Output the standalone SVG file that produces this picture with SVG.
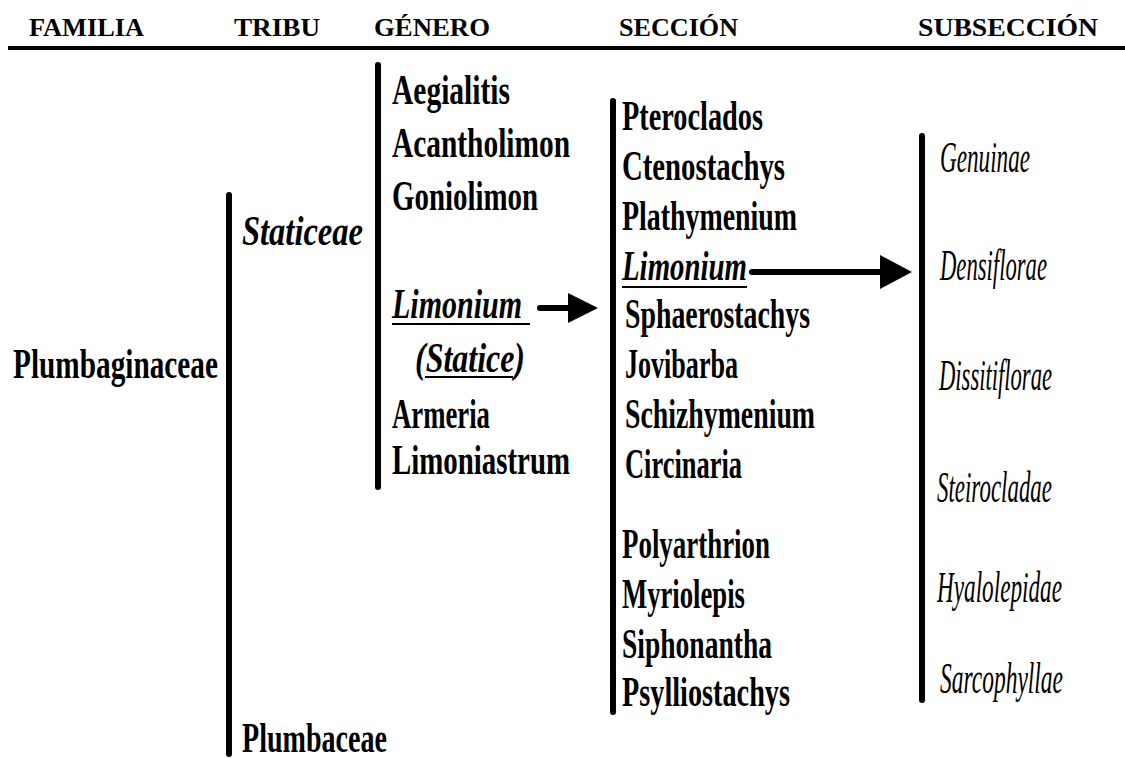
<svg xmlns="http://www.w3.org/2000/svg" width="1125" height="758" viewBox="0 0 1125 758">
<style>
  .hdr { font-family: "Liberation Serif", serif; font-weight: bold; font-size: 26px; fill: #000; }
  .b { font-family: "Liberation Serif", serif; font-weight: bold; font-size: 42px; fill: #000; }
  .bi { font-family: "Liberation Serif", serif; font-weight: bold; font-style: italic; font-size: 42px; fill: #000; }
  .i { font-family: "Liberation Serif", serif; font-style: italic; font-size: 44px; fill: #000; }
  .bar { stroke: #000; stroke-width: 6; stroke-linecap: round; fill: none; }
  .ul { stroke: #000; stroke-width: 2; }
  .shaft { stroke: #000; stroke-width: 6; stroke-linecap: round; }
</style>
<rect width="1125" height="758" fill="#fff"/>
<g id="header">
  <text class="hdr" x="29" y="36" textLength="115" lengthAdjust="spacingAndGlyphs">FAMILIA</text>
  <text class="hdr" x="234" y="36" textLength="86" lengthAdjust="spacingAndGlyphs">TRIBU</text>
  <text class="hdr" x="374" y="36" textLength="116" lengthAdjust="spacingAndGlyphs">GÉNERO</text>
  <text class="hdr" x="619" y="36" textLength="119" lengthAdjust="spacingAndGlyphs">SECCIÓN</text>
  <text class="hdr" x="918" y="36" textLength="180" lengthAdjust="spacingAndGlyphs">SUBSECCIÓN</text>
  <line x1="8" y1="48" x2="1125" y2="48" stroke="#000" stroke-width="4"/>
</g>
<g id="familia">
  <text class="b" x="13" y="378" textLength="205" lengthAdjust="spacingAndGlyphs">Plumbaginaceae</text>
</g>
<g id="tribu">
  <line class="bar" x1="229" y1="195" x2="229" y2="754"/>
  <text class="bi" x="242" y="245" textLength="121" lengthAdjust="spacingAndGlyphs">Staticeae</text>
  <text class="b" x="242" y="752" textLength="145" lengthAdjust="spacingAndGlyphs">Plumbaceae</text>
</g>
<g id="genero">
  <line class="bar" x1="378" y1="65" x2="378" y2="487"/>
  <text class="b" x="392" y="104" textLength="118" lengthAdjust="spacingAndGlyphs">Aegialitis</text>
  <text class="b" x="392" y="157" textLength="178" lengthAdjust="spacingAndGlyphs">Acantholimon</text>
  <text class="b" x="392" y="210" textLength="146" lengthAdjust="spacingAndGlyphs">Goniolimon</text>
  <text class="bi" x="392" y="318" textLength="130" lengthAdjust="spacingAndGlyphs">Limonium</text>
  <line class="ul" x1="392" y1="324" x2="530" y2="324"/>
  <text class="bi" x="415" y="372" textLength="110" lengthAdjust="spacingAndGlyphs">(Statice)</text>
  <line class="ul" x1="425" y1="377" x2="513" y2="377"/>
  <text class="b" x="392" y="428" textLength="98" lengthAdjust="spacingAndGlyphs">Armeria</text>
  <text class="b" x="392" y="474" textLength="178" lengthAdjust="spacingAndGlyphs">Limoniastrum</text>
</g>
<g id="seccion">
  <line class="bar" x1="613" y1="101" x2="613" y2="712"/>
  <text class="b" x="622" y="130" textLength="141" lengthAdjust="spacingAndGlyphs">Pteroclados</text>
  <text class="b" x="622" y="180" textLength="163" lengthAdjust="spacingAndGlyphs">Ctenostachys</text>
  <text class="b" x="622" y="230" textLength="175" lengthAdjust="spacingAndGlyphs">Plathymenium</text>
  <text class="bi" x="622" y="280" textLength="125" lengthAdjust="spacingAndGlyphs">Limonium</text>
  <line class="ul" x1="622" y1="287" x2="747" y2="287"/>
  <text class="b" x="625" y="328" textLength="185" lengthAdjust="spacingAndGlyphs">Sphaerostachys</text>
  <text class="b" x="625" y="378" textLength="113" lengthAdjust="spacingAndGlyphs">Jovibarba</text>
  <text class="b" x="625" y="428" textLength="190" lengthAdjust="spacingAndGlyphs">Schizhymenium</text>
  <text class="b" x="625" y="478" textLength="117" lengthAdjust="spacingAndGlyphs">Circinaria</text>
  <text class="b" x="622" y="558" textLength="148" lengthAdjust="spacingAndGlyphs">Polyarthrion</text>
  <text class="b" x="622" y="608" textLength="123" lengthAdjust="spacingAndGlyphs">Myriolepis</text>
  <text class="b" x="622" y="658" textLength="150" lengthAdjust="spacingAndGlyphs">Siphonantha</text>
  <text class="b" x="622" y="706" textLength="168" lengthAdjust="spacingAndGlyphs">Psylliostachys</text>
</g>
<g id="subseccion">
  <line class="bar" x1="922" y1="136" x2="922" y2="700"/>
  <text class="i" x="940" y="172" textLength="90" lengthAdjust="spacingAndGlyphs">Genuinae</text>
  <text class="i" x="940" y="280" textLength="107" lengthAdjust="spacingAndGlyphs">Densiflorae</text>
  <text class="i" x="939" y="390" textLength="113" lengthAdjust="spacingAndGlyphs">Dissitiflorae</text>
  <text class="i" x="937" y="502" textLength="115" lengthAdjust="spacingAndGlyphs">Steirocladae</text>
  <text class="i" x="937" y="602" textLength="125" lengthAdjust="spacingAndGlyphs">Hyalolepidae</text>
  <text class="i" x="940" y="693" textLength="123" lengthAdjust="spacingAndGlyphs">Sarcophyllae</text>
</g>
<g id="connectors">
  <line class="shaft" x1="540" y1="308" x2="572" y2="308"/>
  <polygon points="568,293 598,308 568,323" fill="#000"/>
  <line class="shaft" x1="752" y1="272" x2="884" y2="272"/>
  <polygon points="880,255 912,272 880,289" fill="#000"/>
</g>
</svg>
